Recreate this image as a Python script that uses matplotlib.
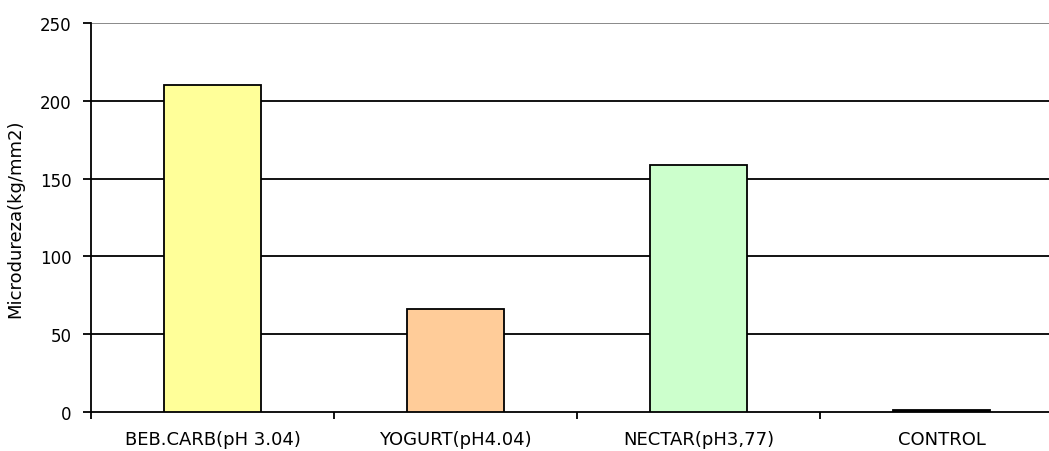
import matplotlib
matplotlib.use("Agg")
import matplotlib.pyplot as plt
import numpy as np

categories = ["BEB.CARB(pH 3.04)", "YOGURT(pH4.04)", "NECTAR(pH3,77)", "CONTROL"]
values = [210, 66, 159, 1.2]
colors = ["#FFFF99", "#FFCC99", "#CCFFCC", "#000000"]
yticks = [0, 50, 100, 150, 200, 250]

plt.rcParams['font.family'] = ['DejaVu Sans']
fig = plt.figure(figsize=(10.49, 4.52), dpi=100)
ax = fig.add_axes([91/1049, 39/452, (1063-91)/1049, (413-24)/452])

x = np.arange(len(categories))
for yv in yticks[1:]:
    ax.axhline(yv, color="#808080" if yv == 250 else "black", lw=1.3, zorder=1)
ax.bar(x, values, width=0.4, color=colors, edgecolor="black", linewidth=1.3, zorder=3)

ax.set_xlim(-0.5, len(categories) - 0.5)
ax.set_ylim(0, 250)
ax.set_yticks(yticks)
ax.set_xticks(x)
ax.set_xticklabels(categories, fontsize=13)
ax.tick_params(axis='x', length=0, pad=13)
ax.set_xticks(np.arange(len(categories) + 1) - 0.5, minor=True)
ax.tick_params(axis='x', which='minor', length=5, width=1.3, direction='out')
ax.tick_params(axis='y', length=6, width=1.3, labelsize=12, pad=8)
for s in ["top", "right"]:
    ax.spines[s].set_visible(False)
ax.spines["left"].set_linewidth(1.3)
ax.spines["bottom"].set_linewidth(1.3)
ax.set_ylabel("Microdureza(kg/mm2)", fontsize=13, labelpad=11)

fig.savefig("out.png", dpi=100)
